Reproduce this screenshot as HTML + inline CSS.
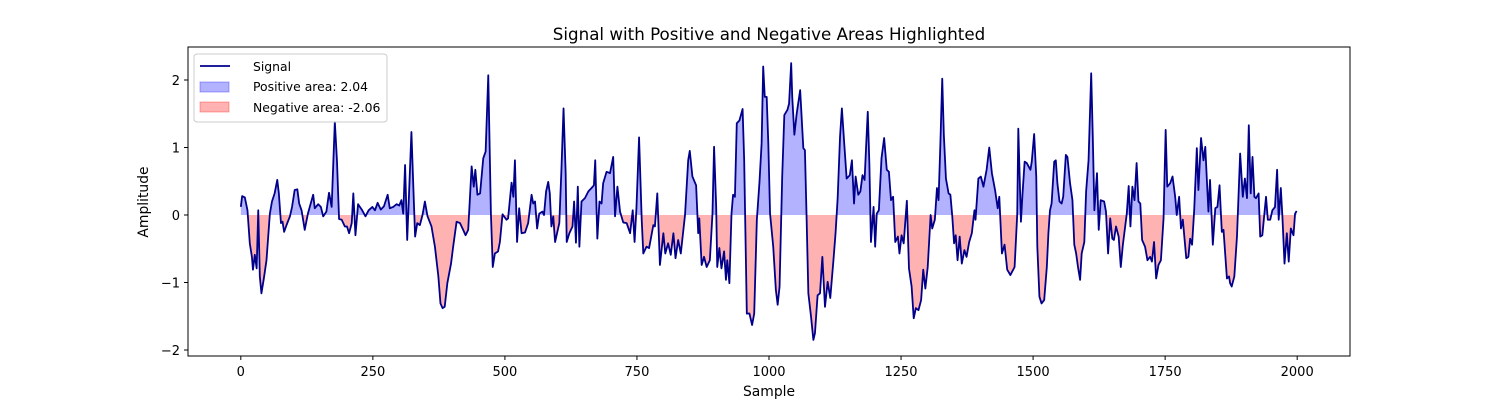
<!DOCTYPE html>
<html><head><meta charset="utf-8"><style>
body{margin:0;background:#fff}
svg text{font-family:"DejaVu Sans","Liberation Sans",sans-serif;fill:#000}
</style></head><body>
<svg id="chart" width="1500" height="400" viewBox="0 0 1500 400">
<defs>
<clipPath id="clipPos"><rect x="188" y="47" width="1162" height="168"/></clipPath>
<clipPath id="clipNeg"><rect x="188" y="215" width="1162" height="141"/></clipPath>
</defs>
<rect x="0" y="0" width="1500" height="400" fill="#fff"/>
<text x="769" y="40" font-size="16.7" text-anchor="middle">Signal with Positive and Negative Areas Highlighted</text>
<g id="plot"></g>
<rect x="188" y="47" width="1162" height="309" fill="none" stroke="#000" stroke-width="1"/>
<g id="xaxis"></g><g id="yaxis"></g>
<text x="769" y="396" font-size="13.9" text-anchor="middle">Sample</text>
<text x="148" y="202" font-size="13.9" text-anchor="middle" transform="rotate(-90 148 202)">Amplitude</text>
<g>
<rect x="194" y="54" width="193" height="68" rx="3" fill="#fff" fill-opacity="0.8" stroke="#ccc"/>
<g><line x1="200" y1="66" x2="230" y2="66" stroke="#00008b" stroke-width="1.8"/><text x="253" y="71" font-size="12.4">Signal</text></g>
<g><rect x="200" y="82" width="29" height="10" fill="rgba(0,0,255,0.3)" stroke="rgba(0,0,255,0.3)"/><text x="253" y="91" font-size="12.4">Positive area: 2.04</text></g>
<g><rect x="200" y="102" width="29" height="10" fill="rgba(255,0,0,0.3)" stroke="rgba(255,0,0,0.3)"/><text x="253" y="112" font-size="12.4">Negative area: -2.06</text></g>
</g>
</svg>
<script>
const S=[0,2.5,7.6,12.6,17,21,23,26.5,30,33,36,39,43.6,48.6,55,59,64,69,72,76,79,82,86.5,93,97,102,107,110.5,115,121,127,137,140,146.5,151.5,156,162,167,172,178,182,186,191,197,201,205,210,213,217,222,229,236,242,249,254,259,265,271,278,282,288.5,295,300,304,307.5,311,315,319,323,327.5,330,334,339,344,348.5,353.5,361,367.5,374,378,382,386,391,398,402,408.5,415,421,425.5,430.5,437,441,444,448,453,459,463.5,468.5,473.5,477,481,487,490.5,495.5,503,506,512.6,516,519,523,527,531.5,538,544,550.5,553.6,557,561,565,571,574,578,582,585,588,591.5,595,603,607,611,615,617,622,628,631,634.5,638,641,645,651.5,658,664,668.5,671,675,679,683,686,692.5,699,705,708.5,713,718,724,730.5,737,742,745.5,749,754,759,762,768,773,781,784,788.5,793.5,800,803.6,809,814,819,823,828,833,841,847,850,855,862,866,868,872.5,877,882,888,893,896,900,902,906,910,915,918.5,921,925,929,932,935.5,939,944,950,953,958,963,968,972,977,982,986,989,992,995.6,998.7,1002,1008,1013,1016.4,1020,1025,1029,1035,1038,1042,1044,1048,1052.4,1059,1065,1068,1071,1074.5,1079.5,1084,1087,1092,1096.6,1101,1106,1111,1116,1122,1126,1130,1134.5,1138,1142,1147,1153,1157,1161,1164,1169,1173,1177,1181,1184,1187,1190,1193,1198,1201,1204,1208,1213,1218,1223,1227,1231,1235,1239,1244,1247,1251,1255,1261,1265,1270,1274,1278,1283,1288,1292,1296,1300.5,1306,1309,1314,1318,1321,1324.5,1328,1331,1335,1340,1343.4,1347,1350.4,1353.5,1357,1361,1365,1370,1374,1379,1384,1389,1391,1396.4,1401,1406,1412,1417,1422,1428,1433,1436,1441,1446,1451,1457,1465,1470,1472,1477,1480,1484,1488,1495,1497.5,1502,1506,1508,1512,1516,1521,1526,1529,1532,1535,1540,1543,1546,1550,1554,1557,1562,1565,1570,1574.5,1578,1581.5,1585,1589,1592,1597,1600.4,1605,1610,1613,1616,1621,1624.3,1628,1634.5,1638,1642,1646,1650,1653,1657,1662,1666,1670,1677.4,1681,1684.3,1688,1692,1696,1699.5,1703,1706.4,1712,1716.5,1721.6,1725,1729,1733,1737.4,1742,1747,1751,1754,1759.5,1764,1769,1772,1776.5,1780,1783.5,1790,1794,1797.3,1801,1805,1810,1813,1818,1822.6,1826,1829,1832,1835,1840.3,1845,1849,1853,1857.3,1860.5,1867,1871,1873,1876,1881,1886,1892,1897,1901,1905,1908.4,1912,1915.4,1919,1922,1927,1930,1934,1941,1944.4,1949,1953,1958,1962,1965,1969,1972,1976,1980.4,1984,1988,1993,1996,1999];
const V=[0.12,0.28,0.26,0.07,-0.42,-0.62,-0.81,-0.59,-0.79,0.07,-0.91,-1.16,-0.94,-0.67,0.02,0.2,0.32,0.52,0.32,-0.12,-0.1,-0.25,-0.15,-0.02,0.12,0.37,0.38,0.17,0.07,-0.22,0.02,0.3,0.1,0.16,0.12,-0.02,0.05,0.33,0.12,1.38,0.81,-0.06,-0.07,-0.17,-0.17,-0.27,-0.12,0.32,-0.3,0.16,0.08,-0.02,0.07,0.12,0.07,0.18,0.08,0.13,0.3,0.1,0.12,0.16,0.14,0.22,0.02,0.74,-0.37,0.42,1.23,0.22,-0.32,-0.12,-0.15,0,0.2,-0.02,-0.17,-0.47,-0.91,-1.31,-1.38,-1.36,-1.01,-0.72,-0.47,-0.1,-0.12,-0.22,-0.3,-0.22,0.72,0.42,0.67,0.3,0.32,0.84,0.94,2.07,0.02,-0.77,-0.57,-0.54,-0.4,0.01,-0.07,-0.05,0.48,0.27,0.81,-0.4,0.1,-0.27,-0.26,-0.12,0.3,0.17,0.2,-0.2,0.02,0.05,0,0.35,0.49,0.32,-0.17,-0.02,-0.4,-0.12,0.67,1.58,0.62,-0.4,-0.27,-0.17,0.2,-0.41,0.42,-0.47,0.2,0.25,0.35,0.4,0.44,0.81,-0.35,0.2,0.17,0.47,0.64,0.62,0.86,-0.02,0.42,0.05,-0.11,-0.12,-0.27,0.07,-0.4,0.1,1.15,-0.07,-0.57,-0.47,-0.49,-0.15,-0.17,0.32,-0.74,-0.27,-0.57,-0.42,-0.59,-0.27,-0.64,-0.37,-0.57,0,0.81,0.95,0.57,0.44,-0.27,-0.05,-0.74,-0.62,-0.77,-0.67,0.02,1.01,0.12,-0.77,-0.49,-0.79,-0.54,-0.96,-0.67,-1.01,0.02,0.3,0.27,1.36,1.4,1.57,0.81,-1.46,-1.46,-1.63,-1.46,-0.07,0.49,1.06,2.2,1.75,1.75,1.06,0.02,-0.47,-1.11,-1.33,-1.06,0.57,1.48,1.56,1.65,2.25,1.75,1.19,1.5,1.85,0.99,0.96,0.02,-1.16,-1.5,-1.85,-1.75,-1.19,-1.16,-0.62,-1.36,-0.99,-1.23,-0.67,-0.27,0.25,1.16,1.58,1.11,0.54,0.59,0.81,0.17,0.57,0.3,0.35,0.59,0.52,1.04,1.53,0.77,-0.4,0.12,-0.47,0.02,0.07,0.84,1.14,0.67,0.64,0.22,0.27,-0.4,-0.32,-0.57,-0.3,-0.42,0.21,-0.79,-1.06,-1.53,-1.38,-1.41,-1.26,-0.81,-1.09,-0.77,0,-0.2,-0.07,0.4,0.22,1.06,2.02,1.19,0.54,0.32,0.3,-0.02,-0.42,-0.3,-0.67,-0.32,-0.72,-0.52,-0.62,-0.4,-0.27,0.07,-0.07,0.54,0.57,0.42,0.67,1.0,0.62,0.37,0.1,0.27,-0.57,-0.44,-0.81,-0.89,-0.77,0.02,1.28,-0.1,0.32,0.79,0.77,0.67,0.79,1.2,0.57,-0.47,-1.21,-1.31,-1.26,-0.77,-0.27,0.07,0.17,0.79,0.81,0.47,0.2,0.17,0.27,0.89,0.86,0.47,0.22,-0.44,-0.57,-0.77,-0.96,-0.57,-0.4,0.35,0.81,2.1,1.16,0.07,0.62,-0.22,0.22,0.2,0.05,-0.57,-0.05,-0.35,-0.37,-0.17,-0.32,-0.77,-0.44,0.02,0.43,-0.17,0.42,0.22,0.77,0.2,0.17,-0.37,-0.47,-0.67,-0.62,-0.69,-0.4,-0.94,-0.74,-0.67,-0.05,1.26,0.42,0.47,0.57,0.27,0,0.27,-0.2,-0.07,-0.64,-0.62,-0.35,-0.44,0.07,0.99,0.37,1.14,0.81,1.01,0.52,0.05,0.52,-0.44,0.1,0.12,0.44,-0.25,-0.22,-0.94,-0.91,-1.01,-1.06,-0.91,-0.32,0.91,0.27,0.54,0.25,1.33,0.32,0.86,0.27,0.25,0.32,-0.32,-0.3,0.27,-0.07,-0.07,0.07,0.12,0.67,-0.07,0.4,-0.02,-0.72,-0.27,-0.69,-0.2,-0.3,0.02,0.06];
const xTicks=[0,250,500,750,1000,1250,1500,1750,2000];
const yTicks=[-2,-1,0,1,2];
const yTickLabels=["\u22122","\u22121","0","1","2"];

const NS="http://www.w3.org/2000/svg";
function xScale(s){return 188+(s+100)*1162/2200;}
function yScale(v){return 215-v*67.5;}
function mk(tag,attrs,parent){const e=document.createElementNS(NS,tag);for(const k in attrs)e.setAttribute(k,attrs[k]);parent.appendChild(e);return e;}

const plot=document.getElementById('plot');
let pts=S.map((s,i)=>xScale(s).toFixed(2)+','+yScale(V[i]).toFixed(2));
let area='M'+xScale(S[0]).toFixed(2)+','+yScale(0)+' L'+pts.join(' L')+' L'+xScale(S[S.length-1]).toFixed(2)+','+yScale(0)+' Z';
const pos=mk('path',{d:area,fill:'rgba(0,0,255,0.3)','clip-path':'url(#clipPos)'},plot);


const neg=mk('path',{d:area,fill:'rgba(255,0,0,0.3)','clip-path':'url(#clipNeg)'},plot);


const line=mk('path',{d:'M'+pts.join(' L'),fill:'none',stroke:'#00008b','stroke-width':1.8,'stroke-linejoin':'round'},plot);



const xa=document.getElementById('xaxis');
xTicks.forEach(t=>{
  const x=xScale(t);
  const g=mk('g',{},xa);
  
  
  mk('line',{x1:x,y1:356,x2:x,y2:360,stroke:'#000'},g);
  const tx=mk('text',{x:x,y:376,'font-size':13,'text-anchor':'middle'},g);tx.textContent=t;
});
const ya=document.getElementById('yaxis');
yTicks.forEach((t,i)=>{
  const y=yScale(t);
  const g=mk('g',{},ya);
  
  
  mk('line',{x1:184,y1:y,x2:188,y2:y,stroke:'#000'},g);
  const tx=mk('text',{x:180,y:y+5,'font-size':13,'text-anchor':'end'},g);tx.textContent=yTickLabels[i];
});
</script>
</body></html>
